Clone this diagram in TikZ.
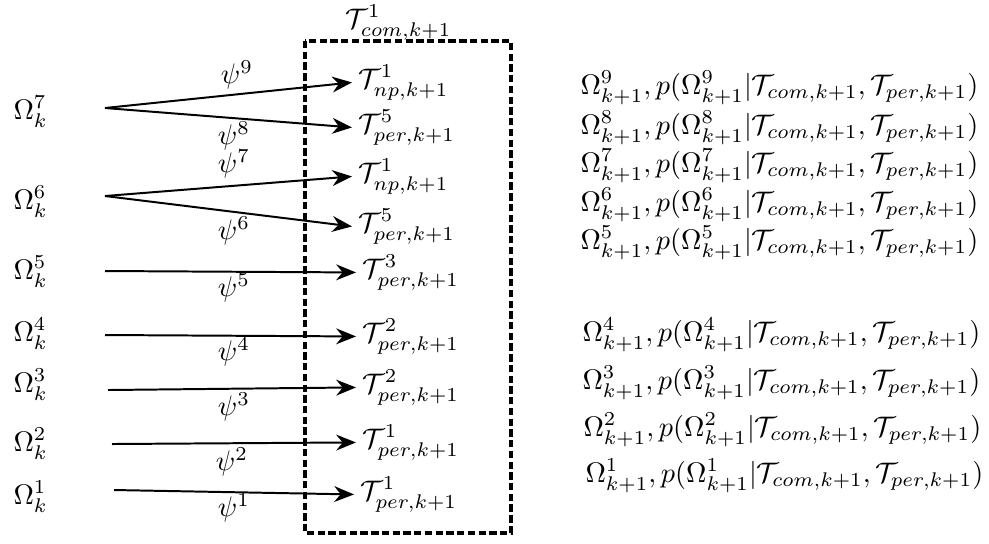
\documentclass[tikz,border=0pt]{standalone}
\usetikzlibrary{arrows.meta}
\begin{document}
\begin{tikzpicture}[x=0.354pt,y=-0.354pt,
  lbl/.style={inner sep=0pt, anchor=base west},
  tnode/.style={inner sep=2pt, anchor=base west},
  psi/.style={inner sep=0pt},
  arr/.style={line width=0.7pt, -{Stealth[length=7pt,width=5.6pt]}},
  boxline/.style={line width=1.7pt, dash pattern=on 2.6pt off 1.2pt}]
\useasboundingbox (0,0) rectangle (989,543);

% dashed box
\draw[boxline] (305,41) rectangle (511,533);
\node[lbl] (tcom) at (345,28) {$\mathcal{T}^1_{com,k+1}$};

% left nodes
\node[lbl] (o7) at (13,119) {$\Omega_k^7$};
\node[lbl] (o6) at (13,209) {$\Omega_k^6$};
\node[lbl] (o5) at (13,279) {$\Omega_k^5$};
\node[lbl] (o4) at (13,341) {$\Omega_k^4$};
\node[lbl] (o3) at (13,392) {$\Omega_k^3$};
\node[lbl] (o2) at (13,451) {$\Omega_k^2$};
\node[lbl] (o1) at (13,504) {$\Omega_k^1$};

% arrow start points
\coordinate (s7) at (105,108);
\coordinate (s6) at (105,196);
\coordinate (s5) at (105,271);
\coordinate (s4) at (105,335);
\coordinate (s3) at (108,390);
\coordinate (s2) at (112,444);
\coordinate (s1) at (114,490);

% targets
\node[tnode] (t9) at (352,88)  {$\mathcal{T}^1_{np,k+1}$};
\node[tnode] (t8) at (352,133) {$\mathcal{T}^5_{per,k+1}$};
\node[tnode] (t7) at (352,182) {$\mathcal{T}^1_{np,k+1}$};
\node[tnode] (t6) at (352,232) {$\mathcal{T}^5_{per,k+1}$};
\node[tnode] (t5) at (356,278) {$\mathcal{T}^3_{per,k+1}$};
\node[tnode] (t4) at (356,342) {$\mathcal{T}^2_{per,k+1}$};
\node[tnode] (t3) at (356,393) {$\mathcal{T}^2_{per,k+1}$};
\node[tnode] (t2) at (356,448) {$\mathcal{T}^1_{per,k+1}$};
\node[tnode] (t1) at (354,500) {$\mathcal{T}^1_{per,k+1}$};

% arrows
\draw[arr] (s7) -- (t9.west);
\draw[arr] (s7) -- (t8.west);
\draw[arr] (s6) -- (t7.west);
\draw[arr] (s6) -- (t6.west);
\draw[arr] (s5) -- (t5.west);
\draw[arr] (s4) -- (t4.west);
\draw[arr] (s3) -- (t3.west);
\draw[arr] (s2) -- (t2.west);
\draw[arr] (s1) -- (t1.west);

% psi labels
\node[psi] (p9) at (237,75)  {$\psi^9$};
\node[psi] (p8) at (234,136) {$\psi^8$};
\node[psi] (p7) at (234,164) {$\psi^7$};
\node[psi] (p6) at (234,231) {$\psi^6$};
\node[psi] (p5) at (234,288) {$\psi^5$};
\node[psi] (p4) at (234,352) {$\psi^4$};
\node[psi] (p3) at (234,407) {$\psi^3$};
\node[psi] (p2) at (232,462) {$\psi^2$};
\node[psi] (p1) at (234,508) {$\psi^1$};

% right texts
\node[lbl] (r9) at (580,94)  {$\Omega^9_{k+1}, p(\Omega^9_{k+1}|\mathcal{T}_{com,k+1}, \mathcal{T}_{per,k+1})$};
\node[lbl] (r8) at (580,134) {$\Omega^8_{k+1}, p(\Omega^8_{k+1}|\mathcal{T}_{com,k+1}, \mathcal{T}_{per,k+1})$};
\node[lbl] (r7) at (580,172) {$\Omega^7_{k+1}, p(\Omega^7_{k+1}|\mathcal{T}_{com,k+1}, \mathcal{T}_{per,k+1})$};
\node[lbl] (r6) at (580,211) {$\Omega^6_{k+1}, p(\Omega^6_{k+1}|\mathcal{T}_{com,k+1}, \mathcal{T}_{per,k+1})$};
\node[lbl] (r5) at (580,249) {$\Omega^5_{k+1}, p(\Omega^5_{k+1}|\mathcal{T}_{com,k+1}, \mathcal{T}_{per,k+1})$};
\node[lbl] (r4) at (582,341) {$\Omega^4_{k+1}, p(\Omega^4_{k+1}|\mathcal{T}_{com,k+1}, \mathcal{T}_{per,k+1})$};
\node[lbl] (r3) at (582,389) {$\Omega^3_{k+1}, p(\Omega^3_{k+1}|\mathcal{T}_{com,k+1}, \mathcal{T}_{per,k+1})$};
\node[lbl] (r2) at (583,436) {$\Omega^2_{k+1}, p(\Omega^2_{k+1}|\mathcal{T}_{com,k+1}, \mathcal{T}_{per,k+1})$};
\node[lbl] (r1) at (585,482) {$\Omega^1_{k+1}, p(\Omega^1_{k+1}|\mathcal{T}_{com,k+1}, \mathcal{T}_{per,k+1})$};
\end{tikzpicture}
\end{document}
